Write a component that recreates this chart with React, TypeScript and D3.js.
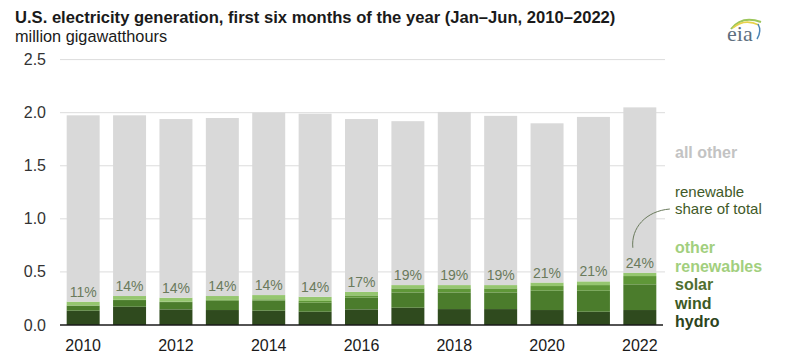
import React from "react";
import * as d3 from "d3";

const years = ["2010","2011","2012","2013","2014","2015","2016","2017","2018","2019","2020","2021","2022"];
const hydro = [0.135, 0.172, 0.147, 0.141, 0.135, 0.125, 0.147, 0.163, 0.150, 0.150, 0.141, 0.125, 0.141];
const wind = [0.048, 0.063, 0.069, 0.088, 0.095, 0.085, 0.110, 0.144, 0.157, 0.157, 0.182, 0.198, 0.242];
const solar = [0.001, 0.002, 0.004, 0.007, 0.012, 0.016, 0.022, 0.038, 0.038, 0.038, 0.044, 0.053, 0.078];
const otherRenewables = [0.036, 0.036, 0.037, 0.037, 0.040, 0.040, 0.034, 0.031, 0.031, 0.031, 0.033, 0.035, 0.031];
const allOther = [1.755, 1.702, 1.683, 1.677, 1.718, 1.724, 1.627, 1.544, 1.631, 1.594, 1.500, 1.549, 1.558];
const shareLabels = ["11%","14%","14%","14%","14%","14%","17%","19%","19%","19%","21%","21%","24%"];
const yTicks = [0, 0.5, 1.0, 1.5, 2.0, 2.5];
const xTickYears = ["2010","2012","2014","2016","2018","2020","2022"];

const seriesKeys = ["hydro", "wind", "solar", "otherRenewables", "allOther"];
const colors: Record<string, string> = {
  hydro: "#2f4a1e",
  wind: "#4b7c2c",
  solar: "#5f9738",
  otherRenewables: "#95c66f",
  allOther: "#d9d9d9",
};

const FONT = "Liberation Sans, Arial, sans-serif";

export default function App() {
  const W = 787, H = 357;
  const x0 = 60, x1 = 663;
  const x = d3.scaleBand<string>().domain(years).range([x0, x1]).paddingInner(0.289).paddingOuter(0.144);
  const y = d3.scaleLinear().domain([0, 2.5]).range([325, 59.6]);

  const rows = years.map((yr, i) => ({
    year: yr,
    hydro: hydro[i],
    wind: wind[i],
    solar: solar[i],
    otherRenewables: otherRenewables[i],
    allOther: allOther[i],
  }));
  const stack = d3.stack<any>().keys(seriesKeys)(rows);
  const renewTop = (i: number) => stack[3][i][1];

  const lastX = (x(years[12]) ?? 0) + x.bandwidth() / 2;
  const curve = d3.path();
  curve.moveTo(lastX - 7, y(renewTop(12)) - 25);
  curve.bezierCurveTo(lastX - 9, 228, lastX + 6, 211, lastX + 30, 209);

  return (
    <svg width={W} height={H} style={{ position: "absolute", left: 0, top: 0, fontFamily: FONT }}>
      <rect width={W} height={H} fill="#ffffff" />
      <text x={15} y={23} fontSize={16.6} fontWeight="bold" fill="#1a1a1a">
        U.S. electricity generation, first six months of the year (Jan–Jun, 2010–2022)
      </text>
      <text x={15} y={42} fontSize={16.3} fill="#1a1a1a">million gigawatthours</text>

      {/* eia logo */}
      <g>
        <path d="M731,29 Q742,15 761,22" fill="none" stroke="#9cc65a" strokeWidth={2} />
        <path d="M733,28 Q744,18 759,25" fill="none" stroke="#e8d24a" strokeWidth={1.5} />
        <path d="M758,24 Q762,31 757,39" fill="none" stroke="#4a86b8" strokeWidth={1.5} />
        <text x={727} y={41} fontSize={22} fontFamily="Liberation Serif, serif" fill="#5e6f80">eia</text>
      </g>

      {yTicks.map((t) => (
        <g key={t}>
          {t > 0 && <line x1={x0} x2={665} y1={y(t)} y2={y(t)} stroke="#dcdcdc" strokeWidth={1} />}
          <text x={46} y={y(t) + 5.5} fontSize={16} textAnchor="end" fill="#333333">{t.toFixed(1)}</text>
        </g>
      ))}

      {stack.map((s) => (
        <g key={s.key} fill={colors[s.key]}>
          {s.map((d, i) => (
            <rect key={i} x={x(years[i])} width={x.bandwidth()} y={y(d[1])} height={Math.max(0, y(d[0]) - y(d[1]))} />
          ))}
        </g>
      ))}

      {years.map((yr, i) => (
        <text key={yr} x={(x(yr) ?? 0) + x.bandwidth() / 2} y={y(renewTop(i)) - 5} fontSize={14} textAnchor="middle" fill="#6a7a5c">
          {shareLabels[i]}
        </text>
      ))}

      <line x1={x0} x2={x1} y1={y(0)} y2={y(0)} stroke="#1a1a1a" strokeWidth={1.5} />

      {xTickYears.map((yr) => (
        <text key={yr} x={(x(yr) ?? 0) + x.bandwidth() / 2} y={351} fontSize={16} textAnchor="middle" fill="#1a1a1a">{yr}</text>
      ))}

      <path d={curve.toString()} fill="none" stroke="#6a7a5c" strokeWidth={1} />

      <text x={675} y={158} fontSize={16} fontWeight="bold" fill="#c3c3c3">all other</text>
      <text x={675} y={197} fontSize={15} fill="#3f5a28">renewable</text>
      <text x={675} y={214} fontSize={15} fill="#3f5a28">share of total</text>
      <text x={675} y={253} fontSize={16} fontWeight="bold" fill="#a2cf7e">other</text>
      <text x={675} y={272} fontSize={16} fontWeight="bold" fill="#a2cf7e">renewables</text>
      <text x={675} y={290} fontSize={16} fontWeight="bold" fill="#4f6f30">solar</text>
      <text x={675} y={309} fontSize={16} fontWeight="bold" fill="#3d5a25">wind</text>
      <text x={675} y={327} fontSize={16} fontWeight="bold" fill="#2d441c">hydro</text>
    </svg>
  );
}
